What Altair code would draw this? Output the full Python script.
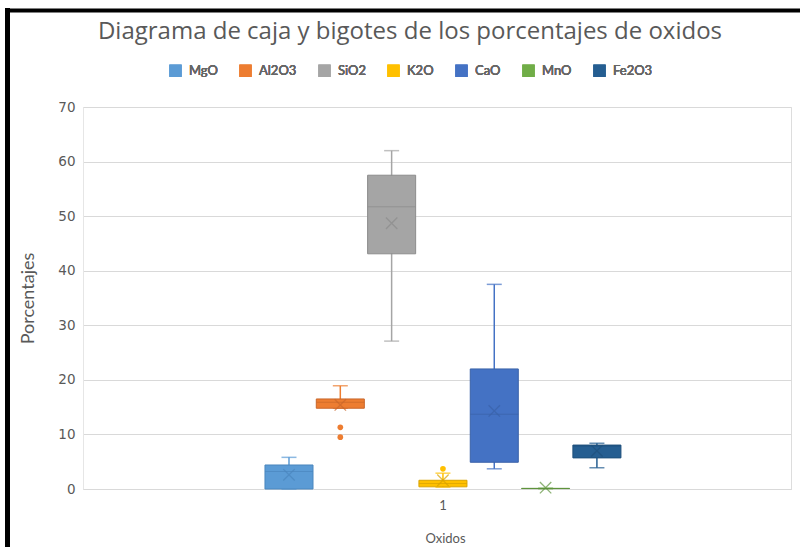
import altair as alt
import pandas as pd

oxides = ["MgO", "Al2O3", "SiO2", "K2O", "CaO", "MnO", "Fe2O3"]
colors = ["#5B9BD5", "#ED7D31", "#A5A5A5", "#FFC000", "#4472C4", "#70AD47", "#255E91"]
dark = ["#4A86BE", "#C9662A", "#8C8C8C", "#D9A300", "#3A62A8", "#5E933C", "#1E4F7B"]
lower = [0.0, 14.8, 27.1, 0.35, 3.7, 0.05, 3.9]
q1 = [0.0, 14.8, 43.1, 0.4, 4.9, 0.08, 5.7]
median = [3.2, 15.9, 51.7, 1.0, 13.7, 0.1, 7.9]
q3 = [4.4, 16.5, 57.5, 1.6, 22.0, 0.12, 8.05]
upper = [5.8, 18.9, 62.0, 2.9, 37.5, 0.15, 8.4]
mean = [2.6, 15.4, 48.7, 1.6, 14.3, 0.25, 7.0]
outlier_oxide = ["Al2O3", "Al2O3", "K2O"]
outlier_value = [11.3, 9.5, 3.7]

df = pd.DataFrame({
    "g": "1", "oxide": oxides, "lo": lower, "q1": q1, "med": median,
    "q3": q3, "hi": upper, "mean": mean, "dark": dark,
})
out_df = pd.DataFrame({"g": "1", "oxide": outlier_oxide, "v": outlier_value})

FONT = "Lato"
GRAY = "#595959"

color = alt.Color(
    "oxide:N", sort=oxides,
    scale=alt.Scale(domain=oxides, range=colors),
    legend=alt.Legend(
        title=None, orient="none", direction="horizontal",
        legendX=86, legendY=-43, symbolType="square", symbolSize=150,
        symbolStrokeWidth=0, labelFontSize=13, labelFontWeight="normal",
        labelColor="#666666", labelFont=FONT,
        columnPadding=21, labelOffset=7,
    ),
)
x = alt.X(
    "g:N", title="Oxidos",
    scale=alt.Scale(paddingInner=0, paddingOuter=0.4888, align=0.517),
    axis=alt.Axis(labelAngle=0, ticks=False, domain=True, domainColor="#d9d9d9",
                  labelFontSize=13, labelColor=GRAY, labelFont=FONT, labelPadding=10,
                  titleFontSize=13, titleColor=GRAY, titleFont=FONT,
                  titleFontWeight="normal", titlePadding=20, titleX=362),
)
xo = alt.XOffset("oxide:N", sort=oxides,
                 scale=alt.Scale(paddingInner=0.064, paddingOuter=0.02))
yscale = alt.Scale(domain=[0, 70], nice=False)
yaxis = alt.Axis(values=list(range(0, 71, 10)), ticks=False, domain=True,
                 domainColor="#e6e6e6", gridColor="#d9d9d9",
                 labelFontSize=13.5, labelColor=GRAY, labelFont="DejaVu Sans",
                 labelPadding=8, titleFontSize=18, titleColor=GRAY,
                 titleFont=FONT, titleFontWeight="normal", titlePadding=20)

base = alt.Chart(df)

whisk = base.mark_rule(strokeWidth=1.5).encode(
    x=x, xOffset=xo,
    y=alt.Y("lo:Q", scale=yscale, axis=yaxis, title="Porcentajes"),
    y2="hi:Q", color=color)
cap_lo = base.mark_tick(size=15, thickness=1.5, orient="horizontal").encode(
    x=x, xOffset=xo, y=alt.Y("lo:Q", scale=yscale), color=color)
cap_hi = base.mark_tick(size=15, thickness=1.5, orient="horizontal").encode(
    x=x, xOffset=xo, y=alt.Y("hi:Q", scale=yscale), color=color)
box = base.mark_bar(strokeWidth=1).encode(
    x=x, xOffset=xo, y=alt.Y("q1:Q", scale=yscale), y2="q3:Q",
    color=color, stroke=alt.Stroke("dark:N", scale=None))
med = base.mark_tick(thickness=1, size=48, orient="horizontal").encode(
    x=x, xOffset=xo, y=alt.Y("med:Q", scale=yscale),
    color=alt.Color("dark:N", scale=None))
mn = base.mark_point(shape="M-1,-1L1,1M1,-1L-1,1", filled=False, size=130,
                     strokeWidth=1.3).encode(
    x=x, xOffset=xo, y=alt.Y("mean:Q", scale=yscale),
    color=alt.Color("dark:N", scale=None))
outl = alt.Chart(out_df).mark_circle(size=32, opacity=1).encode(
    x=x, xOffset=xo, y=alt.Y("v:Q", scale=yscale), color=color)

one = pd.DataFrame({"a": [0]})
frame_v = alt.Chart(one).mark_rule(color="black", strokeWidth=5).encode(
    x=alt.value(-75.5), y=alt.value(-99), y2=alt.value(440))
frame_h = alt.Chart(one).mark_rule(color="black", strokeWidth=4).encode(
    x=alt.value(-78), x2=alt.value(730), y=alt.value(-96.5))

chart = alt.layer(whisk, cap_lo, cap_hi, box, med, mn, outl, frame_v, frame_h).properties(
    width=708, height=382,
    title=alt.TitleParams(
        "Diagrama de caja y bigotes de los porcentajes de oxidos",
        frame="group", anchor="middle", offset=0, dx=-27, dy=38,
        fontSize=24, font="Open Sans", fontWeight="normal", color=GRAY),
    autosize=alt.AutoSizeParams(type="none"),
    padding={"left": 83, "top": 107, "right": 9, "bottom": 58},
).resolve_scale(color="independent").configure_view(stroke=None).configure(background="white")

chart.save("out.html", embed_options={"renderer": "svg", "actions": False})
